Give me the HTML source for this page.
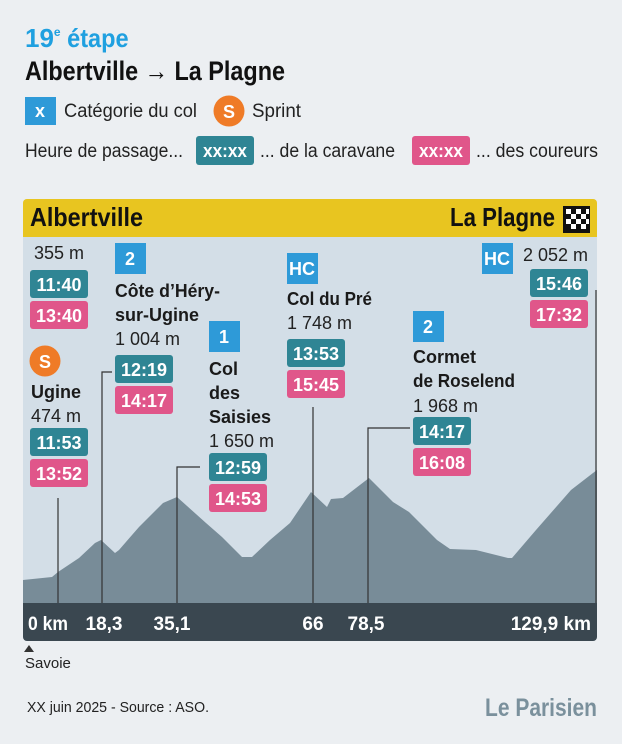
<!DOCTYPE html>
<html><head><meta charset="utf-8"><style>
html,body{margin:0;padding:0;background:#eceff2;}
svg{display:block;}
text{font-family:"Liberation Sans Narrow","Liberation Sans",sans-serif;}
.b{font-weight:bold;}
.w{fill:#fff;font-weight:bold;font-size:18px;text-anchor:middle;}
.n{font-size:18px;fill:#222;}
.nb{font-size:18px;fill:#1a1a1a;font-weight:bold;}
</style></head><body>
<svg width="622" height="744" viewBox="0 0 622 744" xmlns="http://www.w3.org/2000/svg">
<rect width="622" height="744" fill="#eceff2"/>
<!-- header -->
<text x="25" y="47" font-size="26" fill="#1fa0e0" class="b">19<tspan font-size="12" dy="-11">e</tspan><tspan dy="11" textLength="68" lengthAdjust="spacingAndGlyphs"> étape</tspan></text>
<text x="25" y="80" font-size="27" fill="#111" class="b" textLength="260" lengthAdjust="spacingAndGlyphs">Albertville  → La Plagne</text>
<rect x="25" y="97" width="31" height="28" fill="#2e9ad8"/>
<text x="40" y="117" class="w" font-size="16">x</text>
<text x="64" y="117" font-size="19" fill="#222" textLength="133" lengthAdjust="spacingAndGlyphs">Catégorie du col</text>
<circle cx="229" cy="111" r="15.5" fill="#ef7b27"/>
<text x="229" y="118" class="w">S</text>
<text x="252" y="117" font-size="19" fill="#222" textLength="49" lengthAdjust="spacingAndGlyphs">Sprint</text>
<text x="25" y="157" font-size="19" fill="#222" textLength="158" lengthAdjust="spacingAndGlyphs">Heure de passage...</text>
<rect x="196" y="136" width="58" height="29" rx="3" fill="#2f8594"/>
<text x="225" y="157" class="w" textLength="44" lengthAdjust="spacingAndGlyphs">xx:xx</text>
<text x="260" y="157" font-size="19" fill="#222" textLength="135" lengthAdjust="spacingAndGlyphs">... de la caravane</text>
<rect x="412" y="136" width="58" height="29" rx="3" fill="#e0568a"/>
<text x="441" y="157" class="w" textLength="44" lengthAdjust="spacingAndGlyphs">xx:xx</text>
<text x="476" y="157" font-size="19" fill="#222" textLength="122" lengthAdjust="spacingAndGlyphs">... des coureurs</text>

<!-- chart box -->
<rect x="23" y="199" width="574" height="442" rx="4" fill="#d3dee7"/>
<path d="M23,203 a4,4 0 0 1 4,-4 h566 a4,4 0 0 1 4,4 v34 h-574z" fill="#e8c520"/>
<text x="30" y="226" font-size="26" fill="#111" class="b" textLength="113" lengthAdjust="spacingAndGlyphs">Albertville</text>
<text x="450" y="226" font-size="26" fill="#111" class="b" textLength="105" lengthAdjust="spacingAndGlyphs">La Plagne</text>
<rect x="563" y="206" width="27" height="27" fill="#111"/>
<g fill="#fff">
<rect x="566" y="209" width="5" height="5"/><rect x="576" y="209" width="5" height="5"/><rect x="586" y="209" width="3" height="5"/>
<rect x="571" y="214" width="5" height="5"/><rect x="581" y="214" width="5" height="5"/>
<rect x="566" y="219" width="5" height="5"/><rect x="576" y="219" width="5" height="5"/><rect x="586" y="219" width="3" height="5"/>
<rect x="571" y="224" width="5" height="5"/><rect x="581" y="224" width="5" height="5"/>
</g>
<!-- profile -->
<path fill="#788c98" d="M23,580 L52,577 58,572 79,558 95,543 101,540 115,553 119,550 139,527 163,503 177,497 206,523 222,537 242,557 252,557 270,540 290,523 311,492 327,507 331,499 343,498 369,478 393,502 409,512 437,540 450,549 476,550 508,558 512,558 536,530 571,490 593,473 597,470 L597,603 L23,603Z"/>
<!-- leader lines -->
<g stroke="#333" stroke-width="1.2" fill="none">
<path d="M58,498V603"/>
<path d="M112,372H102V603"/>
<path d="M200,467H177V603"/>
<path d="M313,407V603"/>
<path d="M410,428H368V603"/>
<path d="M596,290V603"/>
</g>
<!-- bottom bar -->
<path d="M23,603 h574 v34 a4,4 0 0 1 -4,4 h-566 a4,4 0 0 1 -4,-4z" fill="#3a4750"/>
<g fill="#fff" font-size="19" class="b">
<text x="28" y="630" class="b" textLength="40" lengthAdjust="spacingAndGlyphs">0 km</text>
<text x="104" y="630" class="b" text-anchor="middle">18,3</text>
<text x="172" y="630" class="b" text-anchor="middle">35,1</text>
<text x="313" y="630" class="b" text-anchor="middle">66</text>
<text x="366" y="630" class="b" text-anchor="middle">78,5</text>
<text x="591" y="630" class="b" text-anchor="end">129,9 km</text>
</g>
<path d="M29,645 L34,652 L24,652Z" fill="#333"/>
<text x="25" y="668" font-size="15" fill="#222">Savoie</text>
<text x="27" y="712" font-size="15" fill="#222" textLength="182" lengthAdjust="spacingAndGlyphs">XX juin 2025 - Source : ASO.</text>
<text x="485" y="716" font-size="25" fill="#7a909c" class="b" textLength="112" lengthAdjust="spacingAndGlyphs">Le Parisien</text>

<!-- col 1 -->
<text x="34" y="259" class="n">355 m</text>
<rect x="30" y="270" width="58" height="28" rx="3" fill="#2f8594"/><text x="59" y="291" class="w">11:40</text>
<rect x="30" y="301" width="58" height="28" rx="3" fill="#e0568a"/><text x="59" y="322" class="w">13:40</text>
<circle cx="45" cy="361" r="15.5" fill="#ef7b27"/><text x="45" y="368" class="w">S</text>
<text x="31" y="398" class="nb">Ugine</text>
<text x="31" y="422" class="n">474 m</text>
<rect x="30" y="428" width="58" height="28" rx="3" fill="#2f8594"/><text x="59" y="449" class="w">11:53</text>
<rect x="30" y="459" width="58" height="28" rx="3" fill="#e0568a"/><text x="59" y="480" class="w">13:52</text>
<!-- col 2 -->
<rect x="115" y="243" width="31" height="31" fill="#2e9ad8"/><text x="130" y="265" class="w">2</text>
<text x="115" y="297" class="nb" textLength="105" lengthAdjust="spacingAndGlyphs">Côte d’Héry-</text>
<text x="115" y="321" class="nb">sur-Ugine</text>
<text x="115" y="345" class="n">1 004 m</text>
<rect x="115" y="355" width="58" height="28" rx="3" fill="#2f8594"/><text x="144" y="376" class="w">12:19</text>
<rect x="115" y="386" width="58" height="28" rx="3" fill="#e0568a"/><text x="144" y="407" class="w">14:17</text>
<!-- col 3 -->
<rect x="209" y="321" width="31" height="31" fill="#2e9ad8"/><text x="224" y="343" class="w">1</text>
<text x="209" y="375" class="nb">Col</text>
<text x="209" y="399" class="nb">des</text>
<text x="209" y="423" class="nb">Saisies</text>
<text x="209" y="447" class="n">1 650 m</text>
<rect x="209" y="453" width="58" height="28" rx="3" fill="#2f8594"/><text x="238" y="474" class="w">12:59</text>
<rect x="209" y="484" width="58" height="28" rx="3" fill="#e0568a"/><text x="238" y="505" class="w">14:53</text>
<!-- col 4 -->
<rect x="287" y="253" width="31" height="31" fill="#2e9ad8"/><text x="302" y="275" class="w">HC</text>
<text x="287" y="305" class="nb" textLength="85" lengthAdjust="spacingAndGlyphs">Col du Pré</text>
<text x="287" y="329" class="n">1 748 m</text>
<rect x="287" y="339" width="58" height="28" rx="3" fill="#2f8594"/><text x="316" y="360" class="w">13:53</text>
<rect x="287" y="370" width="58" height="28" rx="3" fill="#e0568a"/><text x="316" y="391" class="w">15:45</text>
<!-- col 5 -->
<rect x="413" y="311" width="31" height="31" fill="#2e9ad8"/><text x="428" y="333" class="w">2</text>
<text x="413" y="363" class="nb">Cormet</text>
<text x="413" y="387" class="nb" textLength="102" lengthAdjust="spacingAndGlyphs">de Roselend</text>
<text x="413" y="412" class="n">1 968 m</text>
<rect x="413" y="417" width="58" height="28" rx="3" fill="#2f8594"/><text x="442" y="438" class="w">14:17</text>
<rect x="413" y="448" width="58" height="28" rx="3" fill="#e0568a"/><text x="442" y="469" class="w">16:08</text>
<!-- col 6 -->
<rect x="482" y="243" width="31" height="31" fill="#2e9ad8"/><text x="497" y="265" class="w">HC</text>
<text x="523" y="261" class="n">2 052 m</text>
<rect x="530" y="269" width="58" height="28" rx="3" fill="#2f8594"/><text x="559" y="290" class="w">15:46</text>
<rect x="530" y="300" width="58" height="28" rx="3" fill="#e0568a"/><text x="559" y="321" class="w">17:32</text>
</svg>
</body></html>
